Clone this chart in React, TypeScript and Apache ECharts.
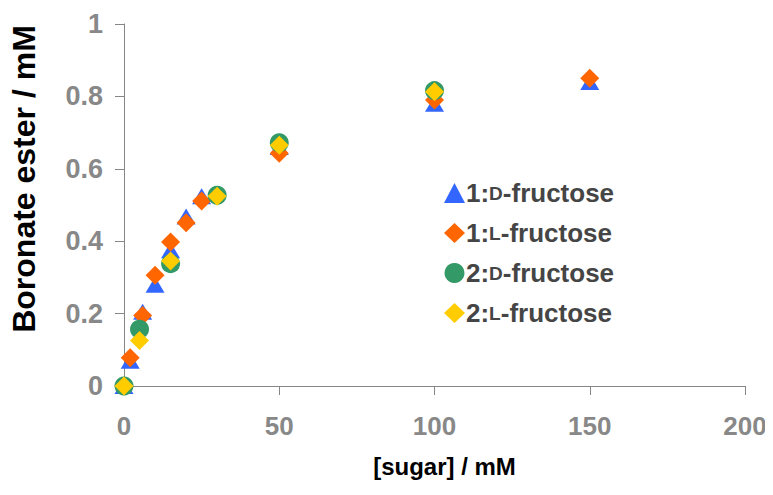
import React, { useEffect, useRef } from "react";
import * as echarts from "echarts";

const seriesNames = ["1:D-fructose", "1:L-fructose", "2:D-fructose", "2:L-fructose"];

const x1D = [0, 2, 6, 10, 15, 20, 25, 50, 100, 150];
const y1D = [0, 0.07, 0.205, 0.28, 0.375, 0.468, 0.524, 0.66, 0.78, 0.84];

const x1L = [0, 2, 6, 10, 15, 20, 25, 50, 100, 150];
const y1L = [0, 0.078, 0.195, 0.306, 0.398, 0.451, 0.511, 0.643, 0.79, 0.85];

const x2D = [0, 5, 15, 30, 50, 100];
const y2D = [0, 0.157, 0.338, 0.527, 0.672, 0.816];

const x2L = [0, 5, 15, 30, 50, 100];
const y2L = [0, 0.126, 0.345, 0.524, 0.665, 0.813];

const xTicks = [0, 50, 100, 150, 200];
const yTicks = [0, 0.2, 0.4, 0.6, 0.8, 1];

const zip = (xs: number[], ys: number[]) => xs.map((x, i) => [x, ys[i]]);

export default function App() {
  const ref = useRef<HTMLDivElement>(null);
  useEffect(() => {
    if (!ref.current) return;
    const chart = echarts.init(ref.current, null, { renderer: "svg" });
    const font = "'Liberation Sans', Arial, sans-serif";
    const gray = "#868686";
    const mk = (name: string, xs: number[], ys: number[], symbol: string, size: any, color: string) => ({
      name,
      type: "scatter",
      data: zip(xs, ys),
      symbol,
      symbolSize: size,
      itemStyle: { color, opacity: 1 },
      emphasis: { disabled: true },
    });
    chart.setOption({
      animation: false,
      backgroundColor: "#ffffff",
      grid: { left: 118, right: 28, top: 24, bottom: 109, containLabel: false },
      legend: {
        orient: "vertical",
        left: 439,
        top: 175,
        itemWidth: 21,
        itemHeight: 20,
        itemGap: 14,
        data: seriesNames,
        formatter: (name: string) => name.replace(/:(D|L)-/, (_m: string, c: string) => ":{sc|" + c + "}-"),
        textStyle: {
          fontFamily: font,
          fontSize: 26,
          fontWeight: "bold",
          color: "#454545",
          padding: [0, 0, 0, -4],
          rich: {
            sc: { fontFamily: font, fontSize: 19, fontWeight: "bold", color: "#454545" },
          },
        },
      },
      xAxis: {
        type: "value",
        min: xTicks[0],
        max: xTicks[xTicks.length - 1],
        interval: 50,
        name: "[sugar] / mM",
        nameLocation: "middle",
        nameGap: 68,
        nameTextStyle: {
          fontFamily: font,
          fontSize: 24,
          fontWeight: "bold",
          color: "#000",
          padding: [0, 0, 0, 20],
        },
        axisLine: { show: true, lineStyle: { color: gray, width: 1 } },
        axisTick: { show: true, length: 9, lineStyle: { color: gray } },
        axisLabel: { margin: 27, fontFamily: font, fontSize: 26, fontWeight: "bold", color: "#888888" },
        splitLine: { show: false },
      },
      yAxis: {
        type: "value",
        min: yTicks[0],
        max: yTicks[yTicks.length - 1],
        interval: 0.2,
        name: "Boronate ester / mM",
        nameLocation: "middle",
        nameGap: 84,
        nameTextStyle: {
          fontFamily: font,
          fontSize: 32,
          fontWeight: "bold",
          color: "#000",
          padding: [0, 0, 0, 52],
        },
        axisLine: { show: true, lineStyle: { color: gray, width: 1 } },
        axisTick: { show: true, length: 9, lineStyle: { color: gray } },
        axisLabel: { margin: 21, fontFamily: font, fontSize: 27, fontWeight: "bold", color: "#888888" },
        splitLine: { show: false },
      },
      series: [
        mk(seriesNames[0], x1D, y1D, "triangle", [19, 16], "#3366FF"),
        mk(seriesNames[1], x1L, y1L, "diamond", 19, "#FF6600"),
        mk(seriesNames[2], x2D, y2D, "circle", 19, "#339966"),
        mk(seriesNames[3], x2L, y2L, "diamond", 19, "#FFCC00"),
      ],
    });
    return () => chart.dispose();
  }, []);
  return <div ref={ref} style={{ width: 773, height: 495, margin: -8 }} />;
}
